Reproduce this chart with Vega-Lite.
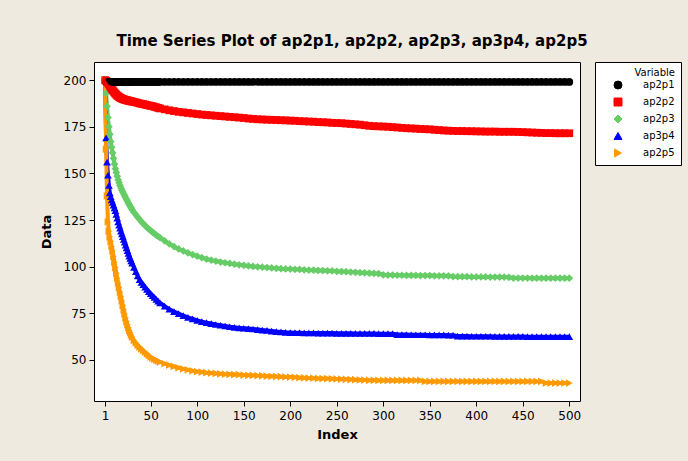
{
  "$schema": "https://vega.github.io/schema/vega-lite/v6.json",
  "width": 688,
  "height": 461,
  "autosize": {"type": "fit", "contains": "padding"},
  "padding": {"left": 40, "top": 34, "right": 6, "bottom": 20},
  "background": "#EEEADF",
  "title": {
    "text": "Time Series Plot of ap2p1, ap2p2, ap2p3, ap3p4, ap2p5",
    "font": "DejaVu Sans",
    "fontSize": 15,
    "fontWeight": "bold",
    "color": "black",
    "offset": 13,
    "dx": 15
  },
  "data": {
    "values": [
      {"i":1,"ap2p1":200,"ap2p2":200,"ap2p3":200,"ap3p4":200,"ap2p5":200},
      {"i":2,"ap2p1":199,"ap2p2":199.6,"ap2p3":193,"ap3p4":169,"ap2p5":163},
      {"i":3,"ap2p1":199,"ap2p2":199.2,"ap2p3":186,"ap3p4":156,"ap2p5":138},
      {"i":4,"ap2p1":199,"ap2p2":198.6,"ap2p3":180,"ap3p4":149,"ap2p5":124},
      {"i":5,"ap2p1":199,"ap2p2":197.8,"ap2p3":175,"ap3p4":143.5,"ap2p5":119},
      {"i":6,"ap2p1":199,"ap2p2":197,"ap2p3":171,"ap3p4":139.5,"ap2p5":116},
      {"i":7,"ap2p1":199,"ap2p2":196.2,"ap2p3":167,"ap3p4":137.5,"ap2p5":113.5},
      {"i":8,"ap2p1":199,"ap2p2":195.4,"ap2p3":164,"ap3p4":135.8,"ap2p5":111},
      {"i":9,"ap2p1":199,"ap2p2":194.6,"ap2p3":161,"ap3p4":134.5,"ap2p5":108.5},
      {"i":10,"ap2p1":199,"ap2p2":193.9,"ap2p3":158,"ap3p4":133,"ap2p5":105.5},
      {"i":11,"ap2p1":199,"ap2p2":193.3,"ap2p3":155,"ap3p4":131.5,"ap2p5":102.5},
      {"i":12,"ap2p1":199,"ap2p2":192.7,"ap2p3":152.5,"ap3p4":130,"ap2p5":99.5},
      {"i":13,"ap2p1":199,"ap2p2":192.2,"ap2p3":150.5,"ap3p4":128,"ap2p5":96.5},
      {"i":14,"ap2p1":199,"ap2p2":191.7,"ap2p3":148.5,"ap3p4":126,"ap2p5":93.8},
      {"i":15,"ap2p1":199,"ap2p2":191.3,"ap2p3":146.5,"ap3p4":124,"ap2p5":91.2},
      {"i":16,"ap2p1":199,"ap2p2":190.9,"ap2p3":145,"ap3p4":122.3,"ap2p5":88.8},
      {"i":17,"ap2p1":199,"ap2p2":190.6,"ap2p3":143.5,"ap3p4":120.7,"ap2p5":86.4},
      {"i":18,"ap2p1":199,"ap2p2":190.3,"ap2p3":142.2,"ap3p4":119.1,"ap2p5":84},
      {"i":19,"ap2p1":199,"ap2p2":190.1,"ap2p3":141,"ap3p4":117.6,"ap2p5":81.6},
      {"i":20,"ap2p1":199,"ap2p2":189.9,"ap2p3":140,"ap3p4":116.1,"ap2p5":79.2},
      {"i":21,"ap2p1":199,"ap2p2":189.7,"ap2p3":139,"ap3p4":114.6,"ap2p5":76.9},
      {"i":22,"ap2p1":199,"ap2p2":189.5,"ap2p3":138,"ap3p4":113.1,"ap2p5":74.6},
      {"i":23,"ap2p1":199,"ap2p2":189.4,"ap2p3":137,"ap3p4":111.6,"ap2p5":72.5},
      {"i":24,"ap2p1":199,"ap2p2":189.2,"ap2p3":136,"ap3p4":110.1,"ap2p5":70.6},
      {"i":25,"ap2p1":199,"ap2p2":189.1,"ap2p3":135,"ap3p4":108.6,"ap2p5":68.9},
      {"i":26,"ap2p1":199,"ap2p2":189,"ap2p3":134,"ap3p4":107.1,"ap2p5":67.3},
      {"i":27,"ap2p1":199,"ap2p2":188.9,"ap2p3":133.2,"ap3p4":105.7,"ap2p5":65.9},
      {"i":28,"ap2p1":199,"ap2p2":188.7,"ap2p3":132.3,"ap3p4":104.4,"ap2p5":64.6},
      {"i":29,"ap2p1":199,"ap2p2":188.6,"ap2p3":131.4,"ap3p4":103.1,"ap2p5":63.4},
      {"i":30,"ap2p1":199,"ap2p2":188.5,"ap2p3":130.5,"ap3p4":101.9,"ap2p5":62.3},
      {"i":32,"ap2p1":199,"ap2p2":188.3,"ap2p3":129.1,"ap3p4":99.6,"ap2p5":60.5},
      {"i":34,"ap2p1":199,"ap2p2":188.1,"ap2p3":127.8,"ap3p4":97.3,"ap2p5":59.1},
      {"i":36,"ap2p1":199,"ap2p2":187.8,"ap2p3":126.5,"ap3p4":95.1,"ap2p5":57.9},
      {"i":38,"ap2p1":199,"ap2p2":187.5,"ap2p3":125.3,"ap3p4":93.1,"ap2p5":56.9},
      {"i":40,"ap2p1":199,"ap2p2":187.3,"ap2p3":124.1,"ap3p4":91.6,"ap2p5":56},
      {"i":42,"ap2p1":199,"ap2p2":187.1,"ap2p3":123,"ap3p4":90.3,"ap2p5":55.1},
      {"i":44,"ap2p1":199,"ap2p2":186.9,"ap2p3":122,"ap3p4":89,"ap2p5":54.2},
      {"i":46,"ap2p1":199,"ap2p2":186.6,"ap2p3":121,"ap3p4":87.8,"ap2p5":53.3},
      {"i":48,"ap2p1":199,"ap2p2":186.4,"ap2p3":120.1,"ap3p4":86.6,"ap2p5":52.4},
      {"i":50,"ap2p1":199,"ap2p2":186.2,"ap2p3":119.3,"ap3p4":85.5,"ap2p5":51.6},
      {"i":52,"ap2p1":199,"ap2p2":186,"ap2p3":118.5,"ap3p4":84.5,"ap2p5":51},
      {"i":54,"ap2p1":199,"ap2p2":185.7,"ap2p3":117.7,"ap3p4":83.5,"ap2p5":50.4},
      {"i":56,"ap2p1":199,"ap2p2":185.4,"ap2p3":116.9,"ap3p4":82.5,"ap2p5":49.9},
      {"i":58,"ap2p1":199,"ap2p2":185.1,"ap2p3":116.2,"ap3p4":81.5,"ap2p5":49.4},
      {"i":60,"ap2p1":199,"ap2p2":184.8,"ap2p3":115.5,"ap3p4":80.6,"ap2p5":48.9},
      {"i":65,"ap2p1":199,"ap2p2":184.3,"ap2p3":113.8,"ap3p4":78.8,"ap2p5":48},
      {"i":70,"ap2p1":199,"ap2p2":183.8,"ap2p3":112.2,"ap3p4":77.2,"ap2p5":47.2},
      {"i":75,"ap2p1":199,"ap2p2":183.4,"ap2p3":110.8,"ap3p4":75.9,"ap2p5":46.5},
      {"i":80,"ap2p1":199,"ap2p2":183,"ap2p3":109.5,"ap3p4":74.8,"ap2p5":45.8},
      {"i":85,"ap2p1":199,"ap2p2":182.7,"ap2p3":108.4,"ap3p4":73.8,"ap2p5":45.2},
      {"i":90,"ap2p1":199,"ap2p2":182.4,"ap2p3":107.4,"ap3p4":72.8,"ap2p5":44.7},
      {"i":95,"ap2p1":199,"ap2p2":182.1,"ap2p3":106.5,"ap3p4":72,"ap2p5":44.2},
      {"i":100,"ap2p1":199,"ap2p2":181.8,"ap2p3":105.6,"ap3p4":71.2,"ap2p5":43.8},
      {"i":105,"ap2p1":199,"ap2p2":181.5,"ap2p3":104.8,"ap3p4":70.5,"ap2p5":43.5},
      {"i":110,"ap2p1":199,"ap2p2":181.3,"ap2p3":104.1,"ap3p4":70,"ap2p5":43.2},
      {"i":115,"ap2p1":199,"ap2p2":181.1,"ap2p3":103.5,"ap3p4":69.5,"ap2p5":43},
      {"i":120,"ap2p1":199,"ap2p2":180.9,"ap2p3":103,"ap3p4":69,"ap2p5":42.8},
      {"i":125,"ap2p1":199,"ap2p2":180.7,"ap2p3":102.5,"ap3p4":68.6,"ap2p5":42.6},
      {"i":130,"ap2p1":199,"ap2p2":180.5,"ap2p3":102.1,"ap3p4":68.2,"ap2p5":42.4},
      {"i":135,"ap2p1":199,"ap2p2":180.3,"ap2p3":101.7,"ap3p4":67.8,"ap2p5":42.3},
      {"i":140,"ap2p1":199,"ap2p2":180.1,"ap2p3":101.3,"ap3p4":67.5,"ap2p5":42.2},
      {"i":145,"ap2p1":199,"ap2p2":179.9,"ap2p3":101,"ap3p4":67.2,"ap2p5":42.1},
      {"i":150,"ap2p1":199,"ap2p2":179.7,"ap2p3":100.7,"ap3p4":67,"ap2p5":41.9},
      {"i":155,"ap2p1":199,"ap2p2":179.4,"ap2p3":100.4,"ap3p4":66.8,"ap2p5":41.8},
      {"i":160,"ap2p1":199,"ap2p2":179.2,"ap2p3":100.1,"ap3p4":66.6,"ap2p5":41.7},
      {"i":165,"ap2p1":199,"ap2p2":179,"ap2p3":99.9,"ap3p4":66.3,"ap2p5":41.6},
      {"i":170,"ap2p1":199,"ap2p2":178.9,"ap2p3":99.7,"ap3p4":66,"ap2p5":41.5},
      {"i":175,"ap2p1":199,"ap2p2":178.8,"ap2p3":99.5,"ap3p4":65.8,"ap2p5":41.3},
      {"i":180,"ap2p1":199,"ap2p2":178.7,"ap2p3":99.3,"ap3p4":65.5,"ap2p5":41.2},
      {"i":185,"ap2p1":199,"ap2p2":178.6,"ap2p3":99.1,"ap3p4":65.2,"ap2p5":41.1},
      {"i":190,"ap2p1":199,"ap2p2":178.5,"ap2p3":98.9,"ap3p4":65,"ap2p5":41},
      {"i":195,"ap2p1":199,"ap2p2":178.4,"ap2p3":98.8,"ap3p4":64.8,"ap2p5":40.9},
      {"i":200,"ap2p1":199,"ap2p2":178.3,"ap2p3":98.7,"ap3p4":64.7,"ap2p5":40.8},
      {"i":205,"ap2p1":199,"ap2p2":178.2,"ap2p3":98.6,"ap3p4":64.6,"ap2p5":40.7},
      {"i":210,"ap2p1":199,"ap2p2":178,"ap2p3":98.5,"ap3p4":64.6,"ap2p5":40.5},
      {"i":215,"ap2p1":199,"ap2p2":177.9,"ap2p3":98.3,"ap3p4":64.5,"ap2p5":40.4},
      {"i":220,"ap2p1":199,"ap2p2":177.8,"ap2p3":98.2,"ap3p4":64.5,"ap2p5":40.3},
      {"i":225,"ap2p1":199,"ap2p2":177.7,"ap2p3":98.1,"ap3p4":64.5,"ap2p5":40.2},
      {"i":230,"ap2p1":199,"ap2p2":177.5,"ap2p3":98,"ap3p4":64.4,"ap2p5":40.1},
      {"i":235,"ap2p1":199,"ap2p2":177.4,"ap2p3":97.9,"ap3p4":64.4,"ap2p5":40},
      {"i":240,"ap2p1":199,"ap2p2":177.3,"ap2p3":97.8,"ap3p4":64.4,"ap2p5":40},
      {"i":245,"ap2p1":199,"ap2p2":177.1,"ap2p3":97.7,"ap3p4":64.4,"ap2p5":39.9},
      {"i":250,"ap2p1":199,"ap2p2":177,"ap2p3":97.5,"ap3p4":64.3,"ap2p5":39.8},
      {"i":255,"ap2p1":199,"ap2p2":176.9,"ap2p3":97.4,"ap3p4":64.3,"ap2p5":39.7},
      {"i":260,"ap2p1":199,"ap2p2":176.7,"ap2p3":97.3,"ap3p4":64.3,"ap2p5":39.6},
      {"i":265,"ap2p1":199,"ap2p2":176.5,"ap2p3":97.1,"ap3p4":64.3,"ap2p5":39.5},
      {"i":270,"ap2p1":199,"ap2p2":176.3,"ap2p3":97,"ap3p4":64.2,"ap2p5":39.4},
      {"i":275,"ap2p1":199,"ap2p2":176.1,"ap2p3":96.8,"ap3p4":64.2,"ap2p5":39.3},
      {"i":280,"ap2p1":199,"ap2p2":175.8,"ap2p3":96.7,"ap3p4":64.2,"ap2p5":39.2},
      {"i":285,"ap2p1":199,"ap2p2":175.5,"ap2p3":96.5,"ap3p4":64.2,"ap2p5":39.1},
      {"i":290,"ap2p1":199,"ap2p2":175.3,"ap2p3":96.4,"ap3p4":64.2,"ap2p5":39.1},
      {"i":295,"ap2p1":199,"ap2p2":175.2,"ap2p3":96.3,"ap3p4":64.1,"ap2p5":39},
      {"i":300,"ap2p1":199,"ap2p2":175.1,"ap2p3":95.6,"ap3p4":64.1,"ap2p5":39},
      {"i":305,"ap2p1":199,"ap2p2":175,"ap2p3":95.5,"ap3p4":64.1,"ap2p5":39},
      {"i":310,"ap2p1":199,"ap2p2":174.8,"ap2p3":95.5,"ap3p4":64.1,"ap2p5":39},
      {"i":315,"ap2p1":199,"ap2p2":174.6,"ap2p3":95.4,"ap3p4":63.6,"ap2p5":39},
      {"i":320,"ap2p1":199,"ap2p2":174.4,"ap2p3":95.4,"ap3p4":63.6,"ap2p5":39},
      {"i":325,"ap2p1":199,"ap2p2":174.2,"ap2p3":95.3,"ap3p4":63.6,"ap2p5":39},
      {"i":330,"ap2p1":199,"ap2p2":174.1,"ap2p3":95.3,"ap3p4":63.5,"ap2p5":39},
      {"i":335,"ap2p1":199,"ap2p2":174,"ap2p3":95.3,"ap3p4":63.5,"ap2p5":39},
      {"i":340,"ap2p1":199,"ap2p2":173.8,"ap2p3":95.2,"ap3p4":63.5,"ap2p5":39},
      {"i":345,"ap2p1":199,"ap2p2":173.7,"ap2p3":95.2,"ap3p4":63.5,"ap2p5":38.5},
      {"i":350,"ap2p1":199,"ap2p2":173.6,"ap2p3":95.2,"ap3p4":63.4,"ap2p5":38.5},
      {"i":355,"ap2p1":199,"ap2p2":173.4,"ap2p3":95.1,"ap3p4":63.4,"ap2p5":38.5},
      {"i":360,"ap2p1":199,"ap2p2":173.2,"ap2p3":95.1,"ap3p4":63.4,"ap2p5":38.5},
      {"i":365,"ap2p1":199,"ap2p2":173,"ap2p3":95.1,"ap3p4":63.4,"ap2p5":38.5},
      {"i":370,"ap2p1":199,"ap2p2":172.9,"ap2p3":95,"ap3p4":63.3,"ap2p5":38.5},
      {"i":375,"ap2p1":199,"ap2p2":172.8,"ap2p3":94.7,"ap3p4":63.3,"ap2p5":38.5},
      {"i":380,"ap2p1":199,"ap2p2":172.7,"ap2p3":94.6,"ap3p4":62.8,"ap2p5":38.5},
      {"i":385,"ap2p1":199,"ap2p2":172.7,"ap2p3":94.6,"ap3p4":62.8,"ap2p5":38.5},
      {"i":390,"ap2p1":199,"ap2p2":172.6,"ap2p3":94.6,"ap3p4":62.8,"ap2p5":38.5},
      {"i":395,"ap2p1":199,"ap2p2":172.6,"ap2p3":94.5,"ap3p4":62.7,"ap2p5":38.5},
      {"i":400,"ap2p1":199,"ap2p2":172.5,"ap2p3":94.5,"ap3p4":62.7,"ap2p5":38.5},
      {"i":405,"ap2p1":199,"ap2p2":172.5,"ap2p3":94.5,"ap3p4":62.7,"ap2p5":38.5},
      {"i":410,"ap2p1":199,"ap2p2":172.4,"ap2p3":94.5,"ap3p4":62.7,"ap2p5":38.5},
      {"i":415,"ap2p1":199,"ap2p2":172.4,"ap2p3":94.4,"ap3p4":62.7,"ap2p5":38.5},
      {"i":420,"ap2p1":199,"ap2p2":172.4,"ap2p3":94.4,"ap3p4":62.6,"ap2p5":38.5},
      {"i":425,"ap2p1":199,"ap2p2":172.3,"ap2p3":94.4,"ap3p4":62.6,"ap2p5":38.5},
      {"i":430,"ap2p1":199,"ap2p2":172.3,"ap2p3":94.4,"ap3p4":62.6,"ap2p5":38.5},
      {"i":435,"ap2p1":199,"ap2p2":172.3,"ap2p3":94.3,"ap3p4":62.6,"ap2p5":38.5},
      {"i":440,"ap2p1":199,"ap2p2":172.3,"ap2p3":93.9,"ap3p4":62.6,"ap2p5":38.5},
      {"i":445,"ap2p1":199,"ap2p2":172.2,"ap2p3":93.9,"ap3p4":62.6,"ap2p5":38.5},
      {"i":450,"ap2p1":199,"ap2p2":172.1,"ap2p3":93.9,"ap3p4":62.6,"ap2p5":38.5},
      {"i":455,"ap2p1":199,"ap2p2":172,"ap2p3":93.9,"ap3p4":62.5,"ap2p5":38.5},
      {"i":460,"ap2p1":199,"ap2p2":171.9,"ap2p3":93.8,"ap3p4":62.5,"ap2p5":38.5},
      {"i":465,"ap2p1":199,"ap2p2":171.8,"ap2p3":93.8,"ap3p4":62.5,"ap2p5":38.5},
      {"i":470,"ap2p1":199,"ap2p2":171.7,"ap2p3":93.8,"ap3p4":62.5,"ap2p5":38.5},
      {"i":475,"ap2p1":199,"ap2p2":171.6,"ap2p3":93.8,"ap3p4":62.5,"ap2p5":37.6},
      {"i":480,"ap2p1":199,"ap2p2":171.6,"ap2p3":93.8,"ap3p4":62.5,"ap2p5":37.6},
      {"i":485,"ap2p1":199,"ap2p2":171.5,"ap2p3":93.8,"ap3p4":62.5,"ap2p5":37.6},
      {"i":490,"ap2p1":199,"ap2p2":171.5,"ap2p3":93.8,"ap3p4":62.5,"ap2p5":37.6},
      {"i":495,"ap2p1":199,"ap2p2":171.5,"ap2p3":93.8,"ap3p4":62.5,"ap2p5":37.6},
      {"i":500,"ap2p1":199,"ap2p2":171.5,"ap2p3":93.8,"ap3p4":62.5,"ap2p5":37.6}
    ]
  },
  "transform": [
    {"fold": ["ap2p1", "ap2p2", "ap2p3", "ap3p4", "ap2p5"], "as": ["series", "value"]}
  ],
  "encoding": {
    "x": {
      "field": "i",
      "type": "quantitative",
      "title": "Index",
      "scale": {"domain": [-11, 511.5], "nice": false, "zero": false},
      "axis": {"values": [1, 50, 100, 150, 200, 250, 300, 350, 400, 450, 500], "titlePadding": 7, "labelPadding": 4}
    },
    "y": {
      "field": "value",
      "type": "quantitative",
      "title": "Data",
      "scale": {"domain": [28, 209.7], "nice": false, "zero": false},
      "axis": {"values": [50, 75, 100, 125, 150, 175, 200], "titlePadding": 10, "labelPadding": 3}
    },
    "color": {
      "field": "series",
      "type": "nominal",
      "title": "Variable",
      "scale": {
        "domain": ["ap2p1", "ap2p2", "ap2p3", "ap3p4", "ap2p5"],
        "range": ["#000000", "#FF0000", "#66CC66", "#0000FF", "#FF9900"]
      }
    }
  },
  "layer": [
    {
      "mark": {"type": "line", "strokeWidth": 4}
    },
    {
      "mark": {"type": "point", "filled": true, "opacity": 1, "strokeWidth": 0, "size": 60},
      "encoding": {
        "shape": {
          "field": "series",
          "type": "nominal",
          "title": "Variable",
          "scale": {
            "domain": ["ap2p1", "ap2p2", "ap2p3", "ap3p4", "ap2p5"],
            "range": ["circle", "square", "diamond", "triangle-up", "triangle-right"]
          }
        }
      }
    }
  ],
  "config": {
    "view": {"stroke": "black", "strokeWidth": 1, "fill": "white"},
    "axis": {
      "grid": false,
      "domain": false,
      "tickColor": "black",
      "tickSize": 5,
      "labelFont": "DejaVu Sans",
      "labelFontSize": 12,
      "labelColor": "black",
      "titleFont": "DejaVu Sans",
      "titleFontSize": 13,
      "titleFontWeight": "bold",
      "titleColor": "black"
    },
    "axisY": {"labelAngle": 0},
    "legend": {
      "orient": "right",
      "offset": 15,
      "padding": 6,
      "strokeColor": "black",
      "fillColor": "white",
      "titleAnchor": "end",
      "titleFont": "DejaVu Sans",
      "titleFontSize": 10,
      "titleFontWeight": "normal",
      "titleColor": "black",
      "titlePadding": 2,
      "labelFont": "DejaVu Sans",
      "labelFontSize": 10,
      "labelColor": "black",
      "labelOffset": 20,
      "labelExpr": "datum.label + '\u00a0\u00a0\u00a0\u00a0\u00a0'",
      "symbolSize": 64,
      "symbolOffset": 12,
      "symbolStrokeWidth": 1,
      "symbolOpacity": 1,
      "rowPadding": 5
    }
  }
}
